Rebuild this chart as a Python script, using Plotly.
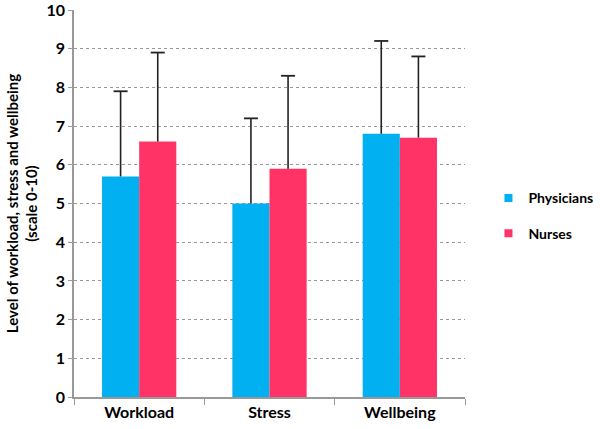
import plotly.graph_objects as go

categories = ["Workload", "Stress", "Wellbeing"]
physicians = [5.7, 5.0, 6.8]
physicians_err = [2.2, 2.2, 2.4]
nurses = [6.6, 5.9, 6.7]
nurses_err = [2.3, 2.4, 2.1]
y_ticks = list(range(0, 11))

font = "Lato, 'Open Sans', sans-serif"
series = [
    ("Physicians", physicians, physicians_err, "#00B0F0", "1"),
    ("Nurses", nurses, nurses_err, "#FF3366", "2"),
]

fig = go.Figure()
for name, vals, errs, color, grp in series:
    fig.add_trace(go.Bar(
        x=categories, y=vals, name=name, showlegend=False,
        offsetgroup=grp,
        marker=dict(color=color, line=dict(width=0)),
        error_y=dict(type="data", array=errs, arrayminus=[0] * len(errs), symmetric=False,
                     color="#222222", thickness=1.6, width=0),
    ))
for name, vals, errs, color, grp in series:
    tops = [v + e for v, e in zip(vals, errs)]
    fig.add_trace(go.Scatter(
        x=categories, y=tops, mode="markers", showlegend=False, offsetgroup=grp,
        marker=dict(symbol="line-ew-open", size=10, color="#222222",
                    line=dict(color="#222222", width=1.8)),
        hoverinfo="skip",
    ))
for name, vals, errs, color, grp in series:
    fig.add_trace(go.Scatter(
        x=[None], y=[None], mode="markers", name=name, offsetgroup=grp,
        legendgroup=name,
        marker=dict(symbol="square", size=8, color=color),
    ))

fig.update_layout(
    width=600, height=429,
    margin=dict(l=74, r=135, t=10, b=32, autoexpand=False),
    paper_bgcolor="white", plot_bgcolor="white",
    barmode="group", bargap=0.43, bargroupgap=0,
    scattermode="group", scattergap=0.43,
    font=dict(family=font, size=15, color="#000000"),
    legend=dict(x=1.06, y=0.468, xanchor="left", yanchor="middle",
                font=dict(family=font, size=14, color="#000", weight="bold"),
                itemwidth=30, tracegroupgap=14),
    xaxis=dict(
        showline=True, linecolor="#999999", linewidth=1.5,
        ticks="outside", tickson="boundaries", ticklen=6, tickcolor="#999999",
        tickfont=dict(family=font, size=16, color="#000", weight="bold"),
        showgrid=False,
    ),
    yaxis=dict(
        range=[0, 10], tickvals=y_ticks, ticklabeloverflow="allow",
        showline=True, linecolor="#999999", linewidth=1.5,
        ticks="outside", ticklen=4, tickcolor="#999999",
        tickfont=dict(family=font, size=16, color="#000", weight="bold"),
        showgrid=True, gridcolor="#999999", gridwidth=1, griddash="dot",
        zeroline=False,
        title=dict(text="Level of workload, stress and wellbeing<br>(scale 0-10)",
                   font=dict(family=font, size=15, color="#000", weight="bold"),
                   standoff=5),
    ),
)

fig.write_html("out.html", config={"displayModeBar": False},
               post_script="document.body.style.margin='0';")
